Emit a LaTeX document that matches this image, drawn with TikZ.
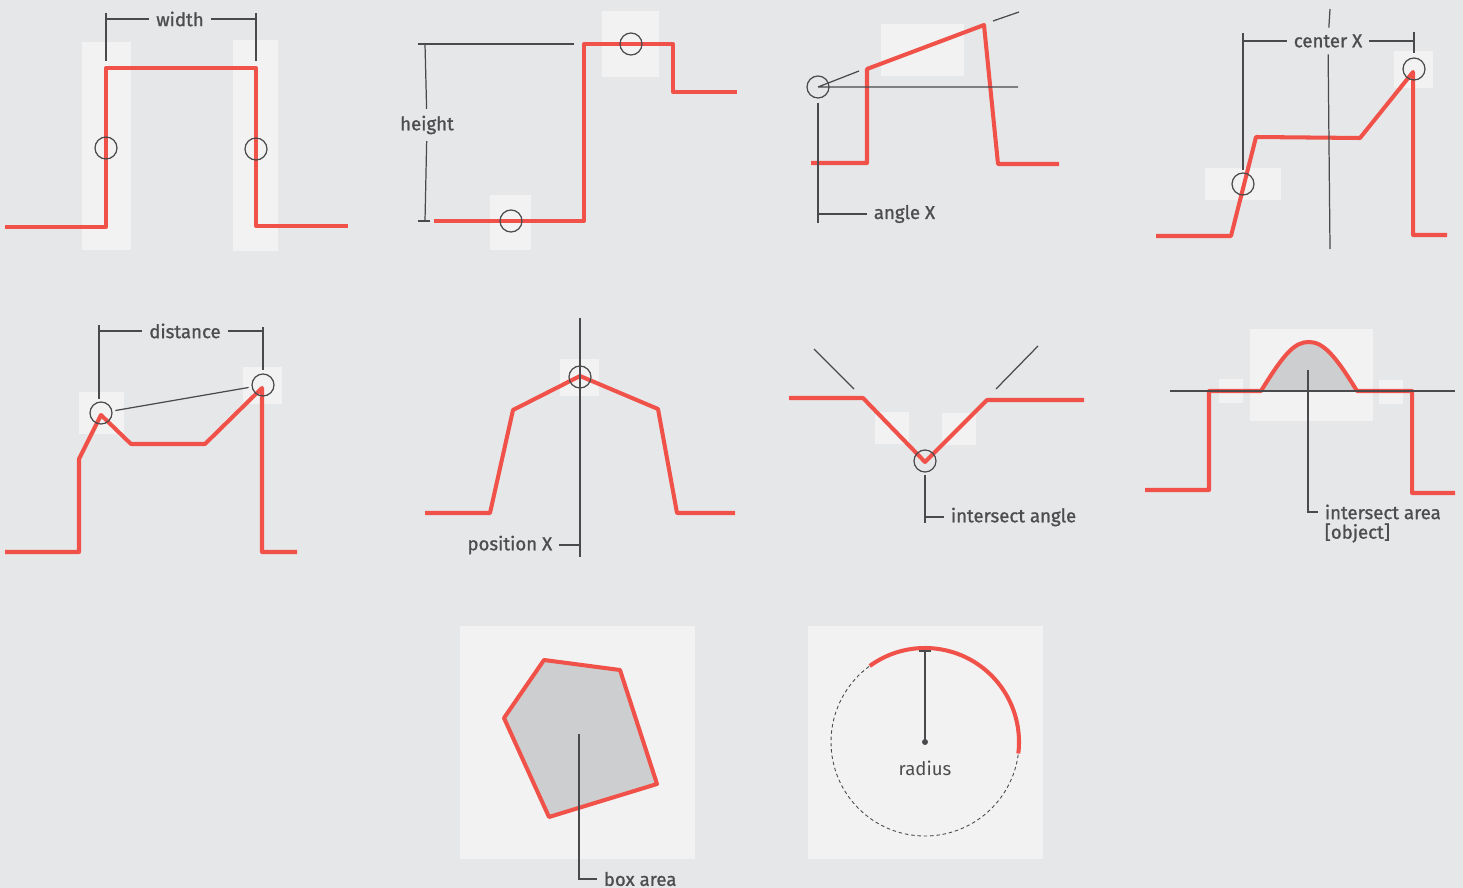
\documentclass[tikz,border=0pt]{standalone}
\usepackage{fontspec}
\setsansfont{Fira Sans}
\newfontfamily\lblfont{Fira Sans}[FakeBold=1.1]
\usepackage{tikz}

\definecolor{bg}{HTML}{E6E7E9}
\definecolor{hlgray}{HTML}{F2F2F2}
\definecolor{sigred}{HTML}{F0524A}
\definecolor{guidegray}{HTML}{4A4A4C}
\definecolor{labelgray}{HTML}{4D4D4F}
\definecolor{areagray}{HTML}{CDCED0}

\begin{document}
\begin{tikzpicture}[
  x=0.02cm, y=-0.02cm,
  sig/.style={draw=sigred,line width=2.3pt,line join=round},
  guide/.style={draw=guidegray,line width=0.7pt},
  hl/.style={fill=hlgray},
  probe/.style={circle,draw=guidegray,line width=0.7pt,minimum size=0.44cm,inner sep=0pt},
  lbl/.style={font=\lblfont\fontsize{10.6pt}{12pt}\selectfont,text=labelgray,inner sep=0.13cm}
]
\useasboundingbox (0,0) rectangle (1463,888);
\fill[bg] (0,0) rectangle (1463,888);

% width
\fill[hl] (82,42) rectangle (131,250);
\fill[hl] (233,40) rectangle (278,251);
\draw[sig] (5,227) -- (106,227) -- (106,68) -- (256,68) -- (256,226) -- (348,226);
\node[probe] (wa) at (106,148) {};
\node[probe] (wb) at (256,149) {};
\node[lbl] (wlab) at (180,19) {width};
\draw[guide] (106,13) -- (106,61) (256,13) -- (256,61);
\draw[guide] (106,19) -- (wlab) -- (256,19);

% height
\fill[hl] (602,11) rectangle (659,77);
\fill[hl] (490,195) rectangle (531,250);
\draw[sig] (434,221) -- (584,221) -- (584,44) -- (673,44) -- (673,92) -- (737,92);
\node[probe] (ha) at (631,44) {};
\node[probe] (hb) at (511,221) {};
\node[lbl] (hlab) at (427,125) {height};
\draw[guide] (418,44) -- (574,44) (418,221) -- (430,221);
\draw[guide] (425,44) -- (hlab) -- (425,221);

% angle X
\fill[hl] (881,24) rectangle (964,76);
\draw[sig] (811,163) -- (867,163) -- (867,69) -- (984,25) -- (998,164) -- (1059,164);
\node[probe] (ax) at (818,87) {};
\draw[guide] (ax.center) -- (1018,87) (ax.center) -- (859,71) (993,21) -- (1019,12);
\node[lbl,anchor=west] (alab) at (867,214) {angle X};
\draw[guide] (818,103) -- (818,223) (818,214) -- (alab);

% center X
\fill[hl] (1394,51) rectangle (1433,88);
\fill[hl] (1205,168) rectangle (1281,200);
\draw[sig] (1156,236) -- (1231,236) -- (1256,137) -- (1360,138) -- (1413,72) -- (1413,235) -- (1447,235);
\node[probe] (ca) at (1243,184) {};
\node[probe] (cb) at (1414,69) {};
\node[lbl] (clab) at (1328,41) {center X};
\draw[guide] (1330,9) -- (clab) -- (1330,249);
\draw[guide] (1243,170) -- (1243,33) (1414,32) -- (1414,53);
\draw[guide] (1243,41) -- (clab) -- (1414,41);

% distance
\fill[hl] (79,392) rectangle (124,434);
\fill[hl] (243,367) rectangle (282,404);
\draw[sig] (5,552) -- (79,552) -- (79,459) -- (101,415) -- (131,444) -- (205,444) -- (262,388) -- (262,552) -- (297,552);
\node[probe] (da) at (101,413) {};
\node[probe] (db) at (263,385) {};
\draw[guide,shorten <=0.06cm,shorten >=0.06cm] (da) -- (db);
\node[lbl] (dlab) at (185,331) {distance};
\draw[guide] (99,325) -- (99,399) (263,327) -- (263,370);
\draw[guide] (99,331) -- (dlab) -- (263,331);

% position X
\fill[hl] (560,359) rectangle (599,396);
\draw[sig] (425,513) -- (490,513) -- (513,410) -- (580,376) -- (658,409) -- (677,513) -- (735,513);
\node[probe] (px) at (580,377) {};
\draw[guide] (580,318) -- (580,557);
\node[lbl,anchor=east] (plab) at (559,545) {position X};
\draw[guide] (580,545) -- (plab);

% intersect angle
\fill[hl] (875,412) rectangle (909,444);
\fill[hl] (942,413) rectangle (976,445);
\draw[sig] (789,398) -- (863,398) -- (925,462) -- (987,400) -- (1084,400);
\node[probe] (ia) at (925,461) {};
\draw[guide] (814,349) -- (854,389) (996,389) -- (1038,346);
\node[lbl,anchor=west] (ialab) at (944,517) {intersect angle};
\draw[guide] (925,475) -- (925,523) (925,517) -- (ialab);

% intersect area
\fill[hl] (1250,329) rectangle (1373,421);
\fill[hl] (1219,379) rectangle (1243,403);
\fill[hl] (1379,380) rectangle (1403,404);
\fill[areagray] (1261,391) .. controls (1285,352) and (1295,342) .. (1309,342)
  .. controls (1323,342) and (1335,355) .. (1357,391) -- cycle;
\draw[sig] (1145,490) -- (1209,490) -- (1209,391) -- (1261,391)
  .. controls (1285,352) and (1295,342) .. (1309,342)
  .. controls (1323,342) and (1335,355) .. (1357,391)
  -- (1412,391) -- (1412,493) -- (1455,493);
\draw[guide] (1170,391) -- (1455,391);
\node[lbl,anchor=west] (iarea) at (1318,512) {intersect area};
\node[lbl,anchor=west] (iobj) at (1318,533) {[object]};
\draw[guide] (1308,370) |- (iarea);

% box area
\fill[hl] (460,626) rectangle (695,859);
\draw[sig,fill=areagray] (544,660) -- (620,670) -- (657,784) -- (549,817) -- (504,718) -- cycle;
\node[lbl,anchor=west] (balab) at (597,879) {box area};
\draw[guide] (579,734) |- (balab);

% radius
\fill[hl] (808,626) rectangle (1043,859);
\coordinate (rc) at (925,742);
\draw[guidegray,line width=0.5pt,dash pattern=on 2pt off 1.6pt] (rc) circle (94);
\draw[sig,line cap=butt] ([shift={(-126:94)}]rc) arc (-126:7:94);
\draw[guide] (rc) -- (925,651);
\draw[guidegray,line width=1.3pt] (919,651) -- (931,651);
\fill[guidegray] (rc) circle (3);
\node[lbl,font=\sffamily\fontsize{10.6pt}{12pt}\selectfont] (rlab) at (925,768) {radius};
\end{tikzpicture}
\end{document}
